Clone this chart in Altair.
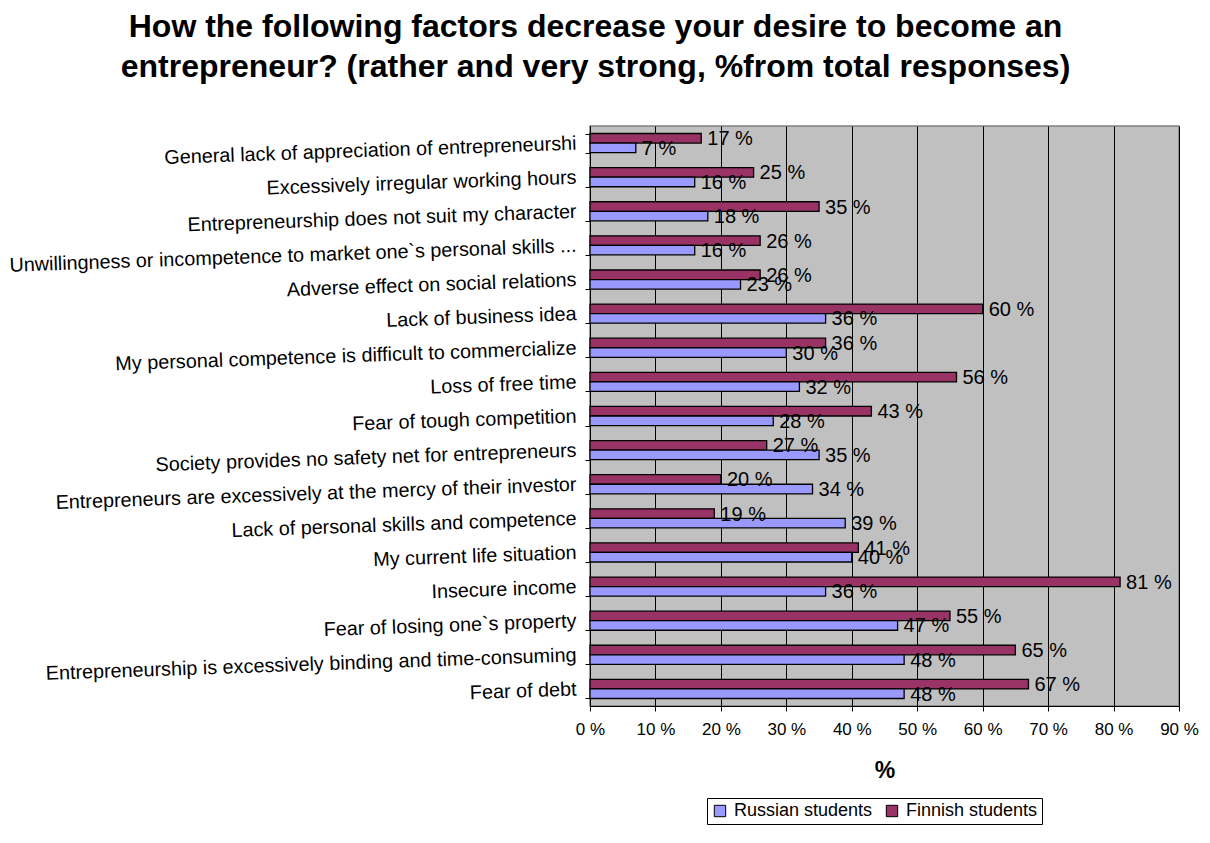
import altair as alt
import pandas as pd

categories = [
    "General lack of appreciation of entrepreneurshi",
    "Excessively irregular working hours",
    "Entrepreneurship does not suit my character",
    "Unwillingness or incompetence to market one`s personal skills ...",
    "Adverse effect on social relations",
    "Lack of business idea",
    "My personal competence is difficult to commercialize",
    "Loss of free time",
    "Fear of tough competition",
    "Society provides no safety net for entrepreneurs",
    "Entrepreneurs are excessively at the mercy of their investor",
    "Lack of personal skills and competence",
    "My current life situation",
    "Insecure income",
    "Fear of losing one`s property",
    "Entrepreneurship is excessively binding and time-consuming",
    "Fear of debt",
]
finnish = [17, 25, 35, 26, 26, 60, 36, 56, 43, 27, 20, 19, 41, 81, 55, 65, 67]
russian = [7, 16, 18, 16, 23, 36, 30, 32, 28, 35, 34, 39, 40, 36, 47, 48, 48]
series = ["Russian students", "Finnish students"]
x_ticks = [0, 10, 20, 30, 40, 50, 60, 70, 80, 90]

rows = []
for c, f, r in zip(categories, finnish, russian):
    rows.append({"cat": c, "series": "Finnish students", "value": f})
    rows.append({"cat": c, "series": "Russian students", "value": r})
df = pd.DataFrame(rows)

FONT = "Liberation Sans"

y_enc = alt.Y("cat:N", sort=categories, title=None,
              scale=alt.Scale(paddingInner=0.44, paddingOuter=0.22),
              axis=alt.Axis(labelFontSize=19.8, labelColor="black", labelFont=FONT,
                            labelAngle=358, labelPadding=9, labelLimit=800,
                            tickBand="extent", tickSize=5, tickColor="black",
                            domainColor="black", grid=False))
yoff = alt.YOffset("series:N", sort=["Finnish students", "Russian students"],
                   scale=alt.Scale(paddingInner=0, paddingOuter=0))
x_enc = alt.X("value:Q", title="%",
              scale=alt.Scale(domain=[0, 90], nice=False),
              axis=alt.Axis(values=x_ticks, labelExpr="datum.value + ' %'",
                            labelFontSize=17, labelFont=FONT, labelColor="black",
                            labelFlush=False, labelOverlap=False,
                            titleFontSize=23, titleFont=FONT, titleFontWeight="bold",
                            titlePadding=22, titleColor="black",
                            tickSize=5, tickColor="black", domainColor="black",
                            grid=True, gridColor="#000000", gridWidth=1,
                            labelPadding=10))

bars = alt.Chart(df).mark_bar(stroke="black", strokeWidth=1.3).encode(
    y=y_enc, yOffset=yoff, x=x_enc,
    color=alt.Color("series:N",
                    scale=alt.Scale(domain=series, range=["#9999FF", "#993366"]),
                    legend=alt.Legend(title=None, orient="none", direction="horizontal",
                                      legendX=117, legendY=672,
                                      labelFontSize=18, labelFont=FONT, labelColor="black",
                                      symbolType="square", symbolSize=130,
                                      symbolStrokeColor="black", symbolStrokeWidth=1,
                                      strokeColor="black", padding=4,
                                      columnPadding=10, labelOffset=5)),
)

labels = alt.Chart(df).transform_calculate(
    lbl="datum.value + ' %'"
).mark_text(align="left", baseline="middle", dx=6, dy=1, fontSize=20,
            font=FONT, color="black").encode(
    y=alt.Y("cat:N", sort=categories),
    yOffset=yoff,
    x=alt.X("value:Q"),
    text="lbl:N",
)

chart = (bars + labels).properties(
    width=589, height=580,
    autosize=alt.AutoSizeParams(type="none"),
    padding={"left": 582, "top": 118, "right": 20, "bottom": 125},
    title=alt.TitleParams(
        ["How the following factors decrease your desire to become an",
         "entrepreneur? (rather and very strong, %from total responses)"],
        fontSize=32, font=FONT, fontWeight="bold", color="black",
        lineHeight=40, offset=32, anchor="middle", frame="group", dx=-289),
).configure(
    background="white",
    view=alt.ViewConfig(fill="#C0C0C0", stroke="#808080", strokeWidth=1.5),
)

chart.save("out.html", embed_options={"renderer": "svg", "actions": False})
